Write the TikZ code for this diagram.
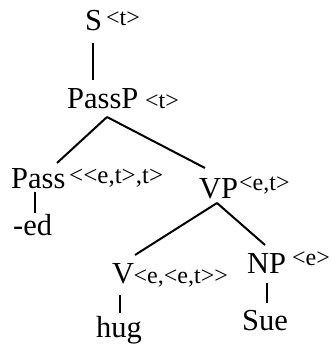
\documentclass[tikz,border=0pt]{standalone}
\usepackage{fontspec}
\setmainfont{Liberation Serif}[Ligatures=TeXOff]
\usepackage{tikz}
\usetikzlibrary{calc}

\begin{document}
\begin{tikzpicture}[x=1pt, y=-1pt,
    cat/.style={anchor=base west, inner sep=0pt, font=\fontsize{30.5}{31}\selectfont},
    type/.style={anchor=base west, inner sep=0pt, font=\fontsize{24}{25}\selectfont},
    branch/.style={line width=2pt}]
    \useasboundingbox (0, 0) rectangle (331, 345);

    % Root and passive head
    \node[cat] (S) at (85, 31) {S};
    \node[type] (St) at (106, 26) {<t>};
    \node[cat] (PassP) at (67, 108) {PassP};
    \node[type] (PassPt) at (145, 108) {<t>};

    % Left daughter
    \node[cat] (Pass) at (11, 188) {Pass};
    \node[type, font=\fontsize{25}{26}\selectfont] (Passt) at (69, 183) {<<e,t>,t>};
    \node[cat] (ed) at (13, 235) {-ed};

    % Right daughter
    \node[cat] (VP) at (199, 198) {VP};
    \node[type] (VPt) at (239, 190) {<e,t>};
    \node[cat] (V) at (112, 283) {V};
    \node[type] (Vt) at (133.5, 283) {<e,<e,t>>};
    \node[cat] (NP) at (247, 273) {NP};
    \node[type] (NPt) at (292, 265) {<e>};
    \node[cat] (hug) at (96, 337) {hug};
    \node[cat] (Sue) at (242, 330) {Sue};

    % Branches
    \draw[branch] ($(S.base west)+(8,12)$) -- ($(PassP.base west)+(26,-28)$);
    \draw[branch] ($(PassP.base west)+(40,9)$) -- ($(Pass.base west)+(46,-25)$);
    \draw[branch] ($(PassP.base west)+(40,9)$) -- ($(VP.base west)+(6,-30)$);
    \draw[branch] ($(Pass.base west)+(24,4)$) -- ($(ed.base west)+(22,-22)$);
    \draw[branch] ($(VP.base west)+(18,5)$) -- ($(V.base west)+(23,-28)$);
    \draw[branch] ($(VP.base west)+(18,5)$) -- ($(NP.base west)+(18,-28)$);
    \draw[branch] ($(V.base west)+(8,12)$) -- ($(hug.base west)+(24,-24)$);
    \draw[branch] ($(NP.base west)+(20,10)$) -- ($(Sue.base west)+(25,-27)$);
\end{tikzpicture}
\end{document}
